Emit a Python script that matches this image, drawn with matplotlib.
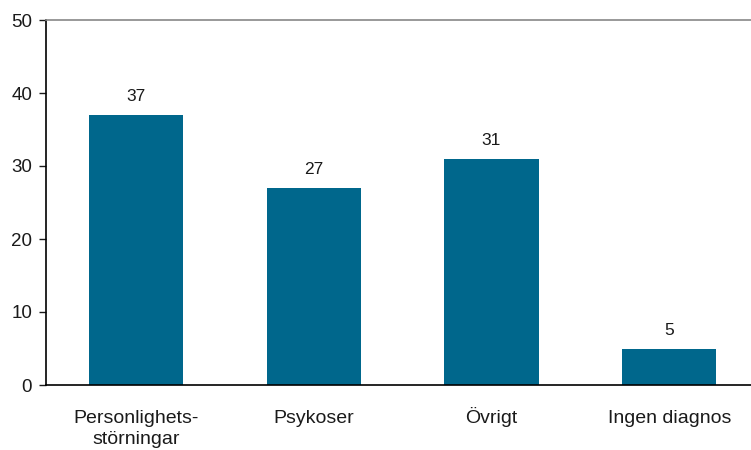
import matplotlib
matplotlib.use("Agg")
import matplotlib.pyplot as plt
from matplotlib.transforms import offset_copy

categories = ["Personlighets-\nstörningar", "Psykoser", "Övrigt", "Ingen diagnos"]
values = [37, 27, 31, 5]
yticks = [0, 10, 20, 30, 40, 50]

plt.rcParams['font.family'] = ['Liberation Sans', 'DejaVu Sans']

fig = plt.figure(figsize=(7.51, 4.5), dpi=100)
ax = fig.add_axes([46 / 751, 65 / 450, 705 / 751, 365 / 450])

x = list(range(len(categories)))
ax.bar(x, values, width=0.53, color='#00678C', zorder=2)
for xi, v in zip(x, values):
    ax.annotate(str(v), (xi, v), xytext=(0, 9.8), textcoords='offset points',
                ha='center', va='baseline', fontsize=12.5, color='#1a1a1a')

ax.set_xlim(-0.506, 3.46)
ax.set_ylim(0, 50)
ax.set_yticks(yticks)
ax.set_xticks(x)
ax.set_xticklabels([])
ax.tick_params(axis='y', labelsize=13.5, length=5, width=1, colors='#1a1a1a', pad=5)
ax.tick_params(axis='x', length=0)

# category labels, one baseline per line (pixel offsets below the axis)
trans = ax.get_xaxis_transform()
line_offsets = [38, 59]
for xi, label in zip(x, categories):
    for k, line in enumerate(label.split("\n")):
        t = offset_copy(trans, fig=fig, x=0, y=-line_offsets[k], units='dots')
        ax.text(xi, 0, line, transform=t, ha='center', va='baseline',
                fontsize=14, color='#1a1a1a', clip_on=False)

ax.spines['right'].set_visible(False)
ax.spines['top'].set_color('#888888')
ax.spines['top'].set_linewidth(1.2)
ax.spines['left'].set_linewidth(1.2)
ax.spines['bottom'].set_linewidth(1.2)

fig.savefig("out.png", dpi=100)
